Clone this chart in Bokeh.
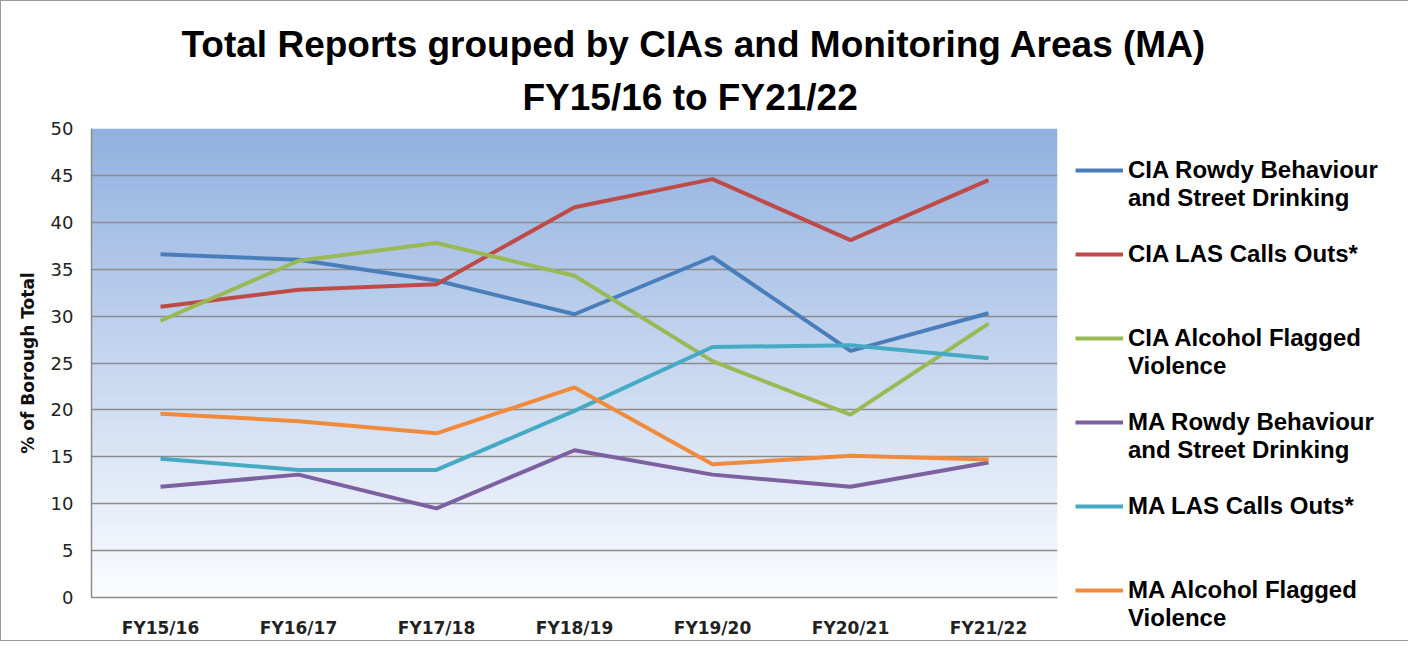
import numpy as np
from bokeh.plotting import figure
from bokeh.models import Legend, LegendItem, FixedTicker, Title, Range1d
from bokeh.embed import file_html
from bokeh.resources import INLINE

categories = ["FY15/16", "FY16/17", "FY17/18", "FY18/19", "FY19/20", "FY20/21", "FY21/22"]
cia_rowdy = [36.6, 36.0, 33.8, 30.2, 36.3, 26.3, 30.3]
cia_las = [31.0, 32.8, 33.4, 41.6, 44.6, 38.1, 44.5]
cia_alcohol = [29.5, 35.9, 37.8, 34.3, 25.2, 19.5, 29.2]
ma_rowdy = [11.8, 13.1, 9.5, 15.7, 13.1, 11.8, 14.4]
ma_las = [14.8, 13.6, 13.6, 19.9, 26.7, 26.9, 25.5]
ma_alcohol = [19.6, 18.8, 17.5, 22.4, 14.2, 15.1, 14.7]
y_ticks = [0, 5, 10, 15, 20, 25, 30, 35, 40, 45, 50]

# label lines per series (legend wraps like the original)
series = [
    (["CIA Rowdy Behaviour", "and Street Drinking"], cia_rowdy, "#4A7EBB"),
    (["CIA LAS Calls Outs*"], cia_las, "#BE4B48"),
    (["CIA Alcohol Flagged", "Violence"], cia_alcohol, "#98B954"),
    (["MA Rowdy Behaviour", "and Street Drinking"], ma_rowdy, "#7D60A0"),
    (["MA LAS Calls Outs*"], ma_las, "#46AAC5"),
    (["MA Alcohol Flagged", "Violence"], ma_alcohol, "#F08A3C"),
]

n = len(categories)
xs = [i + 0.5 for i in range(n)]

W, H = 1392, 638
FL, FR, FT, FB = 90, 1056, 127, 596
p = figure(frame_width=FR - FL, frame_height=FB - FT, x_range=Range1d(0, n), y_range=Range1d(0, 50),
           output_backend="svg", toolbar_location=None,
           min_border_left=FL, min_border_right=W - FR, min_border_top=FT, min_border_bottom=H - FB,
           background_fill_color="white", border_fill_color="white")
p.outline_line_color = None
p.styles = {"border": "1px solid #9a9a9a"}

# vertical gradient background for plot area
rows = 256
t = np.linspace(0, 1, rows)[:, None]
bottom = np.array([252, 253, 255])
top = np.array([146, 177, 224])
cols = (bottom + (top - bottom) * t).astype(np.uint32)
img = np.empty((rows, 2), dtype=np.uint32)
view = img.view(dtype=np.uint8).reshape((rows, 2, 4))
view[:, :, 0] = cols[:, 0:1]
view[:, :, 1] = cols[:, 1:2]
view[:, :, 2] = cols[:, 2:3]
view[:, :, 3] = 255
p.image_rgba(image=[img], x=0, y=0, dw=n, dh=50, level="image")

dummy = p.line(x=[], y=[], line_alpha=0)

items = []
for k, (lines, vals, color) in enumerate(series):
    r = p.line(xs, vals, line_color=color, line_width=4)
    items.append(LegendItem(label=lines[0], renderers=[r]))
    extra = lines[1:] + [""] * (2 - len(lines[1:]))
    if k == len(series) - 1:
        extra = lines[1:]
    for e in extra:
        items.append(LegendItem(label=e, renderers=[dummy]))

p.xaxis.ticker = FixedTicker(ticks=xs)
p.xaxis.major_label_overrides = {x: c for x, c in zip(xs, categories)}
p.xaxis.major_label_text_font = "DejaVu Sans"
p.xaxis.major_label_text_font_style = "bold"
p.xaxis.major_label_text_font_size = "17px"
p.xaxis.major_label_text_color = "#222222"
p.xaxis.major_label_standoff = 14
p.xaxis.major_tick_line_color = None
p.xaxis.minor_tick_line_color = None
p.xaxis.axis_line_color = "#8c8c8c"
p.xaxis.axis_line_width = 1.5

p.yaxis.ticker = FixedTicker(ticks=y_ticks)
p.yaxis.major_label_text_font = "DejaVu Sans"
p.yaxis.major_label_text_font_size = "18px"
p.yaxis.major_label_text_color = "#222222"
p.yaxis.major_label_standoff = 12
p.yaxis.major_tick_line_color = None
p.yaxis.minor_tick_line_color = None
p.yaxis.axis_line_color = "#8c8c8c"
p.yaxis.axis_line_width = 1.5
p.yaxis.axis_label = "% of Borough Total"
p.yaxis.axis_label_text_font = "DejaVu Sans"
p.yaxis.axis_label_text_font_style = "bold"
p.yaxis.axis_label_text_font_size = "17px"
p.yaxis.axis_label_text_color = "#111111"
p.yaxis.axis_label_standoff = 10

p.xgrid.grid_line_color = None
p.ygrid.grid_line_color = "#8c8c8c"
p.ygrid.grid_line_width = 1.5

t2 = Title(text="FY15/16 to FY21/22", align="left", offset=431,
           text_font="Liberation Sans", text_font_style="bold", text_font_size="37px",
           text_color="#000000", standoff=21)
t1 = Title(text="Total Reports grouped by CIAs and Monitoring Areas (MA)", align="left", offset=90,
           text_font="Liberation Sans", text_font_style="bold", text_font_size="37px",
           text_color="#000000", standoff=0)
p.add_layout(t2, "above")
p.add_layout(t1, "above")

ROW = 28
legend_h = ROW * len(items)
legend = Legend(items=items, location=(18, (FB - FT) - 28 - legend_h), orientation="vertical")
legend.margin = 0
legend.padding = 0
legend.border_line_color = None
legend.background_fill_alpha = 0
legend.glyph_width = 48
legend.glyph_height = ROW
legend.label_height = ROW
legend.label_standoff = 5
legend.spacing = 0
legend.label_text_font = "Liberation Sans"
legend.label_text_font_style = "bold"
legend.label_text_font_size = "24px"
legend.label_text_line_height = 1.1
legend.label_text_color = "#000000"
p.add_layout(legend, "right")

open("out.html", "w").write(file_html(p, INLINE))
